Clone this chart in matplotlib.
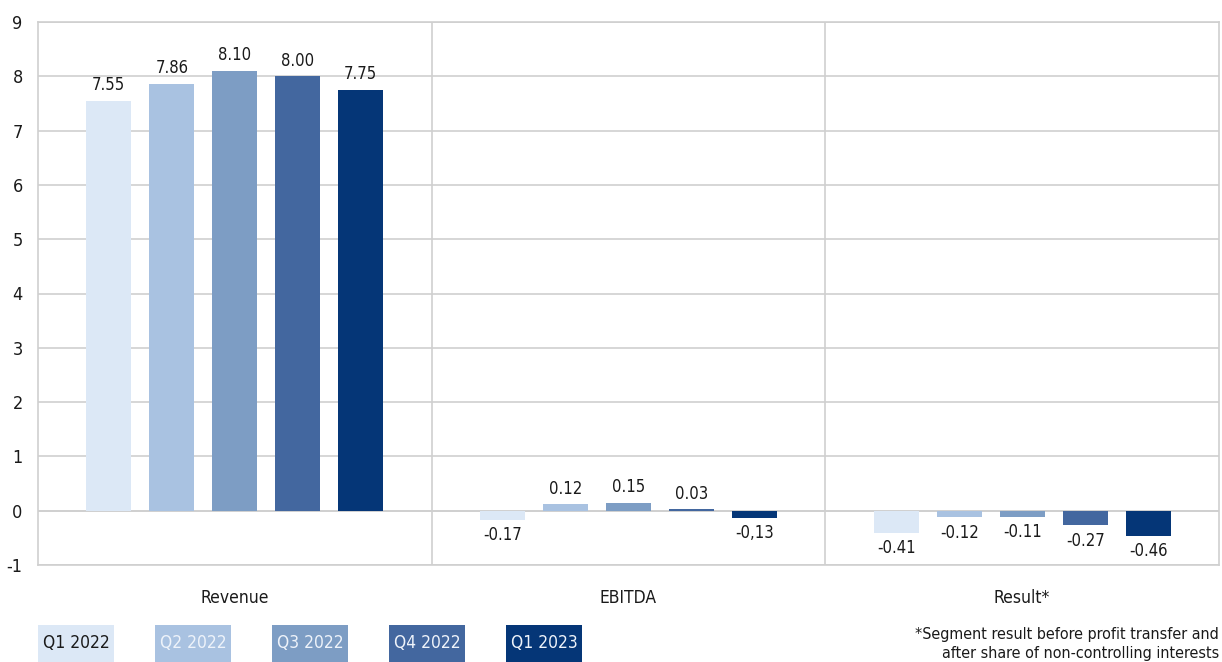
import numpy as np
import matplotlib.pyplot as plt
from matplotlib.patches import Rectangle

# Segment figures per quarter (EUR bn)
categories = ['Revenue', 'EBITDA', 'Result*']
quarters = ['Q1 2022', 'Q2 2022', 'Q3 2022', 'Q4 2022', 'Q1 2023']
revenue = [7.55, 7.86, 8.10, 8.00, 7.75]
ebitda = [-0.17, 0.12, 0.15, 0.03, -0.13]
result = [-0.41, -0.12, -0.11, -0.27, -0.46]
ebitda_labels = ['-0.17', '0.12', '0.15', '0.03', '-0,13']
colors = ['#dce8f6', '#a9c2e1', '#7d9dc4', '#43679f', '#053677']
legend_text = ['#1a1a1a', '#eef3fa', '#eef3fa', '#eef3fa', '#eef3fa']

series = np.array([revenue, ebitda, result]).T  # rows = quarters
labels = [
    ['%.2f' % v for v in revenue],
    ebitda_labels,
    ['%.2f' % v for v in result],
]

plt.rcParams['font.family'] = ['DejaVu Sans']
plt.rcParams['font.stretch'] = 'condensed'
plt.rcParams['axes.unicode_minus'] = False
fig = plt.figure(figsize=(12.22, 6.62), dpi=100)
ax = fig.add_axes([38 / 1222, 1 - 565 / 662, (1219 - 38) / 1222, (565 - 22) / 662])

x = np.arange(len(categories))
step = 0.16
width = 0.115
for i, q in enumerate(quarters):
    pos = x + (i - 2) * step
    ax.bar(pos, series[i], width=width, color=colors[i], zorder=3)
    for j in range(len(categories)):
        v = series[i][j]
        lab = labels[j][i]
        if v >= 0:
            ax.text(pos[j], v + 0.12, lab, ha='center', va='bottom', fontsize=12, color='#1a1a1a')
        else:
            ax.text(pos[j], v - 0.12, lab, ha='center', va='top', fontsize=12, color='#1a1a1a')

ax.set_xlim(-0.5, 2.5)
ax.set_ylim(-1, 9)
ax.set_yticks(range(-1, 10))
ax.yaxis.grid(True, color='#cfcfcf', linewidth=1.2, zorder=0)
for b in [0.5, 1.5]:
    ax.axvline(b, color='#cfcfcf', linewidth=1.2, zorder=0)
ax.axhline(0, color='#cfcfcf', linewidth=1.2, zorder=1)
for s in ax.spines.values():
    s.set_color('#cfcfcf')
    s.set_linewidth(1.2)
ax.set_xticks(x)
ax.set_xticklabels(categories, fontsize=12.5, color='#1a1a1a')
ax.tick_params(axis='x', length=0, pad=17)
ax.tick_params(axis='y', length=0, pad=11, labelsize=13, labelcolor='#1a1a1a')

# Legend as filled boxes along the bottom
for i, q in enumerate(quarters):
    x0 = (38 + i * 117) / 1222
    fig.patches.append(Rectangle((x0, 0), 76 / 1222, 37 / 662, transform=fig.transFigure,
                                 facecolor=colors[i], edgecolor='none'))
    fig.text(x0 + 38 / 1222, 18.5 / 662, q, ha='center', va='center',
             fontsize=12.5, color=legend_text[i])

fig.text(1219 / 1222, 1 - 644 / 662, '*Segment result before profit transfer and\nafter share of non-controlling interests',
         ha='right', va='center', fontsize=11.5, color='#1a1a1a', linespacing=1.3)

fig.savefig('out.png', dpi=100)
